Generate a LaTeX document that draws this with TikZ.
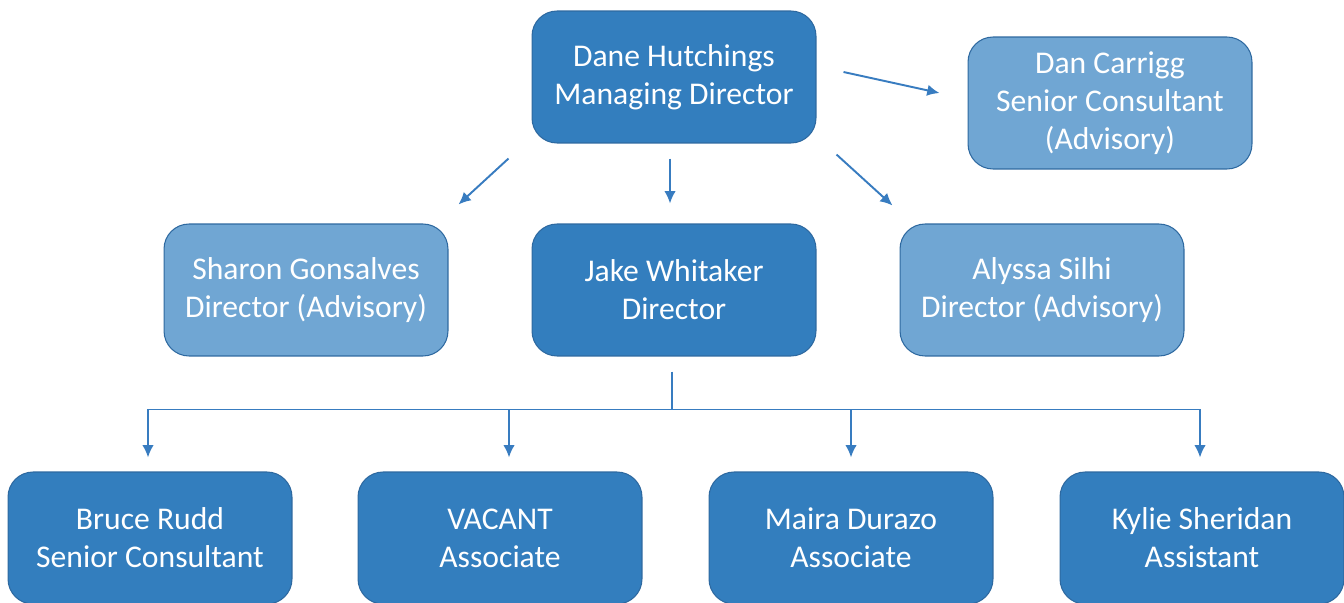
\documentclass[tikz,border=0pt]{standalone}
\usepackage{fontspec}
\setmainfont{Carlito}
\usepackage{tikz}
\usepackage{xcolor}
\usetikzlibrary{positioning,arrows.meta}

\definecolor{darkbox}{RGB}{51,126,190}
\definecolor{lightbox}{RGB}{112,166,211}
\definecolor{boxline}{RGB}{46,105,160}
\definecolor{linkblue}{RGB}{56,124,192}

\begin{document}
\begin{tikzpicture}[x=0.02cm, y=-0.02cm,
		person/.style={draw=boxline, line width=0.6pt, rounded corners=0.5cm,
			minimum width=5.68cm, minimum height=2.64cm, align=center,
			text=white, font=\fontsize{18}{21.6}\selectfont},
		staff/.style={person, fill=darkbox},
		advisor/.style={person, fill=lightbox},
		link/.style={draw=linkblue, line width=1.1pt,
			-{Latex[length=7pt,width=6.5pt]}}]
\useasboundingbox (0,0) rectangle (1344,602);

% top level
\node[staff] (dane) at (674,77) {Dane Hutchings\\Managing Director};
\node[advisor] (dan) at (1110,103) {Dan Carrigg\\Senior Consultant\\(Advisory)};

% directors
\node[advisor] (sharon) at (306,290) {Sharon Gonsalves\\Director (Advisory)};
\node[staff] (jake) at (674,290) {Jake Whitaker\\Director};
\node[advisor] (alyssa) at (1042,290) {Alyssa Silhi\\Director (Advisory)};

% team
\node[staff] (bruce) at (150,538) {Bruce Rudd\\Senior Consultant};
\node[staff] (vacant) at (500,538) {VACANT\\Associate};
\node[staff] (maira) at (851,538) {Maira Durazo\\Associate};
\node[staff] (kylie) at (1202,538) {Kylie Sheridan\\Assistant};

% links from the managing director
\draw[link] ([shift={(27,-5)}]dane.east) -- ([shift={(-28,-10)}]dan.west);
\draw[link] ([shift={(-23,15)}]dane.south west) -- ([shift={(10,-19)}]sharon.north east);
\draw[link] ([shift={(-4,15)}]dane.south) -- ([shift={(-4,-20)}]jake.north);
\draw[link] ([shift={(20,11)}]dane.south east) -- ([shift={(-7,-18)}]alyssa.north west);

% links to the team
\draw[draw=linkblue, line width=1.1pt] ([shift={(-2,15)}]jake.south) -- ++(0,38) coordinate (bus);
\draw[link] (bus) -| ([shift={(-2,-14)}]bruce.north);
\draw[link] (bus) -| ([shift={(9,-14)}]vacant.north);
\draw[link] (bus) -| ([shift={(0,-14)}]maira.north);
\draw[link] (bus) -| ([shift={(-2,-14)}]kylie.north);

\end{tikzpicture}
\end{document}
